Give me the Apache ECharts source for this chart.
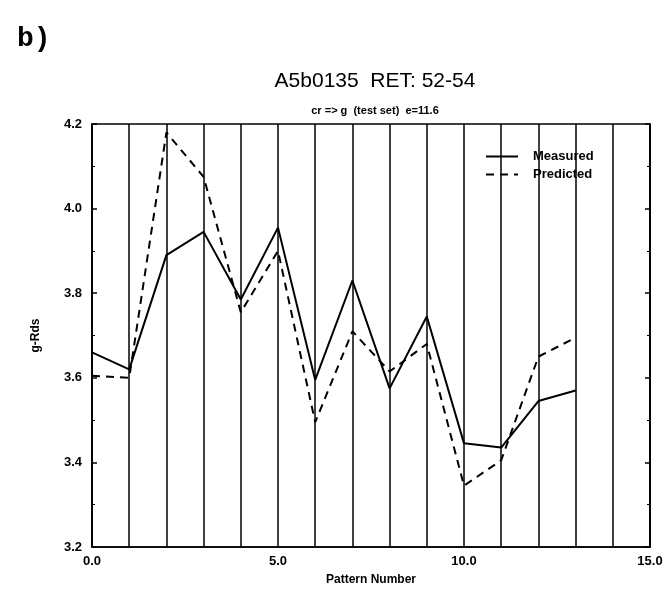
<!DOCTYPE html>
<html>
<head>
<meta charset="utf-8">
<script src="https://cdn.jsdelivr.net/npm/echarts@6/dist/echarts.min.js"></script>
<style>
html,body{margin:0;padding:0;background:#fff;}
#chart{width:672px;height:598px;}
</style>
</head>
<body>
<div id="chart"></div>
<script>
// pattern index 0..13
var patterns = [0,1,2,3,4,5,6,7,8,9,10,11,12,13];
var measured = [3.66,3.62,3.89,3.945,3.785,3.955,3.595,3.83,3.575,3.745,3.445,3.435,3.545,3.57];
var predicted = [3.605,3.60,4.18,4.075,3.755,3.90,3.495,3.71,3.615,3.68,3.345,3.405,3.65,3.695];
var xTicks = ['0.0','5.0','10.0','15.0'];

var fontMain = 'Liberation Sans, Arial, sans-serif';

function pairs(vals){
    var out = [];
    for(var i=0;i<vals.length;i++){
        out.push([patterns[i], vals[i]]);
    }
    return out;
}

var chart = echarts.init(document.getElementById('chart'));
var option = {
    backgroundColor:'#fff',
    animation:false,
    title:[
        {text:'b)', left:12, top:20, textStyle:{fontFamily:'Liberation Mono, Courier New, monospace', fontWeight:'bold', fontSize:28, color:'#000'}},
        {text:'A5b0135  RET: 52-54', left:370, top:66, textAlign:'center', textStyle:{fontFamily:fontMain, fontWeight:'normal', fontSize:21, color:'#000'}},
        {text:'cr => g  (test set)  e=11.6', left:370, top:100, textAlign:'center', textStyle:{fontFamily:fontMain, fontWeight:'bold', fontSize:11, color:'#000'}}
    ],
    legend:{
        orient:'vertical', left:480, top:145, itemGap:5, itemWidth:32, itemHeight:12,
        itemStyle:{opacity:0},
        textStyle:{fontFamily:fontMain, fontWeight:'bold', fontSize:13, color:'#000', padding:[0,0,0,10]},
        data:['Measured','Predicted']
    },
    grid:{left:92, right:22, top:124, bottom:51, show:true, borderColor:'#000', borderWidth:1.5},
    xAxis:{
        type:'value', min:0, max:15, interval:1,
        name:'Pattern Number', nameLocation:'middle', nameGap:27,
        nameTextStyle:{fontFamily:fontMain, fontWeight:'bold', fontSize:12, color:'#000'},
        axisLine:{lineStyle:{color:'#000', width:1.5}},
        axisTick:{show:false},
        splitLine:{show:true, lineStyle:{color:'#000', width:1.5}},
        axisLabel:{
            fontFamily:fontMain, fontWeight:'bold', fontSize:13, color:'#000', margin:8,
            formatter:function(v){ return v%5===0 ? xTicks[v/5] : ''; }
        }
    },
    yAxis:[{
        type:'value', min:3.2, max:4.2, interval:0.2,
        name:'g-Rds', nameLocation:'middle', nameGap:50,
        nameTextStyle:{fontFamily:fontMain, fontWeight:'bold', fontSize:12, color:'#000'},
        axisLine:{lineStyle:{color:'#000', width:1.5}},
        axisTick:{inside:true, length:5, lineStyle:{color:'#000', width:1.5}},
        minorTick:{show:true, splitNumber:2, length:3, lineStyle:{color:'#000'}},
        splitLine:{show:false},
        axisLabel:{fontFamily:fontMain, fontWeight:'bold', fontSize:13, color:'#000', margin:10,
            formatter:function(v){ return v.toFixed(1); }}
    },{
        type:'value', min:3.2, max:4.2, interval:0.2, position:'right',
        axisLine:{show:true, lineStyle:{color:'#000', width:1.5}},
        axisTick:{inside:true, length:5, lineStyle:{color:'#000', width:1.5}},
        minorTick:{show:true, splitNumber:2, length:3, lineStyle:{color:'#000'}},
        splitLine:{show:false},
        axisLabel:{show:false}
    }],
    series:[
        {name:'Measured', type:'line', data:pairs(measured), symbol:'none',
         lineStyle:{color:'#000', width:2}, itemStyle:{color:'#000'}},
        {name:'Predicted', type:'line', data:pairs(predicted), symbol:'none',
         lineStyle:{color:'#000', width:2, type:[8,6]}, itemStyle:{color:'#000'}}
    ]
};
chart.setOption(option);
</script>
</body>
</html>
